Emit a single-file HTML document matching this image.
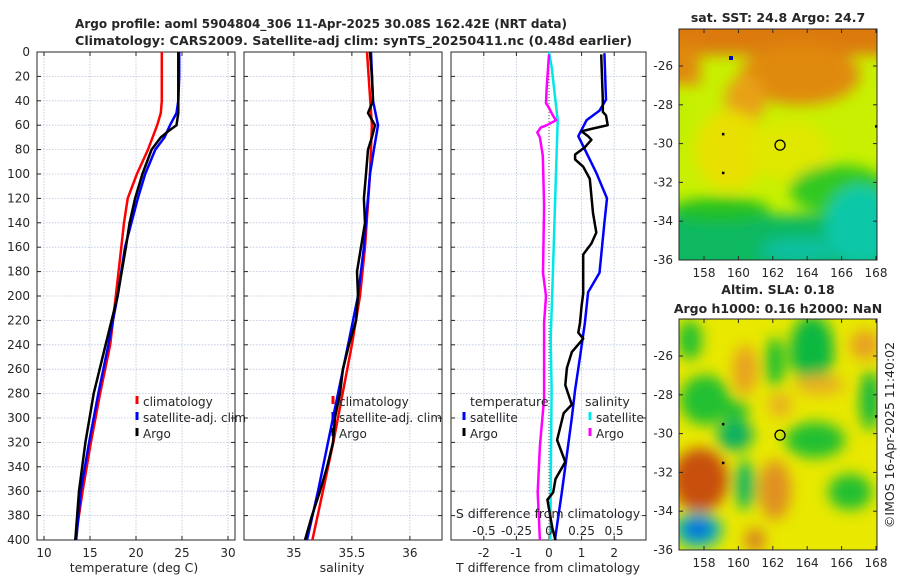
<!DOCTYPE html>
<html><head><meta charset="utf-8"><style>
body{margin:0;background:#fff;}
svg{font-family:"DejaVu Sans","Liberation Sans",sans-serif;}
</style></head><body>
<svg id="c" width="900" height="580" viewBox="0 0 900 580" xmlns="http://www.w3.org/2000/svg">
<defs>
<filter id="bl" x="-20%" y="-20%" width="140%" height="140%"><feGaussianBlur stdDeviation="7"/></filter>
<clipPath id="cm1"><rect x="679" y="29" width="198" height="231"/></clipPath>
<clipPath id="cm2"><rect x="679" y="319" width="198" height="231"/></clipPath>
</defs>
<g clip-path="url(#cm1)">
<rect x="679" y="29" width="198" height="231" fill="#c8f000"/>
<g filter="url(#bl)">
<rect x="660" y="10" width="240" height="45" fill="#dc7a08"/>
<rect x="660" y="45" width="40" height="40" fill="#e08a10"/>
<ellipse cx="800" cy="75" rx="60" ry="30" fill="#e08a10"/>
<ellipse cx="745" cy="100" rx="20" ry="25" fill="#e8a018"/>
<ellipse cx="730" cy="150" rx="35" ry="40" fill="#e8e000"/>
<ellipse cx="790" cy="150" rx="40" ry="30" fill="#e0e800"/>
<ellipse cx="840" cy="190" rx="50" ry="25" fill="#30c820"/>
<rect x="660" y="215" width="240" height="60" fill="#10b860"/>
<ellipse cx="720" cy="210" rx="50" ry="12" fill="#20c020"/>
<ellipse cx="860" cy="225" rx="35" ry="40" fill="#10c8a8"/>
<ellipse cx="800" cy="250" rx="40" ry="12" fill="#10c0a0"/>
<ellipse cx="680" cy="120" rx="8" ry="30" fill="#c0f000"/>
</g>
<rect x="729" y="56" width="4" height="4" fill="#0010a0"/>
</g>
<g clip-path="url(#cm2)">
<rect x="679" y="319" width="198" height="231" fill="#e8e800"/>
<g filter="url(#bl)">
<ellipse cx="690" cy="340" rx="12" ry="20" fill="#20c030"/>
<ellipse cx="812" cy="350" rx="22" ry="35" fill="#10b840"/>
<ellipse cx="705" cy="400" rx="25" ry="25" fill="#20c030"/>
<ellipse cx="735" cy="410" rx="14" ry="10" fill="#20c030"/>
<ellipse cx="775" cy="362" rx="10" ry="25" fill="#20c030"/>
<ellipse cx="870" cy="400" rx="10" ry="30" fill="#10b840"/>
<ellipse cx="735" cy="435" rx="18" ry="16" fill="#10b060"/>
<ellipse cx="815" cy="440" rx="30" ry="18" fill="#20c030"/>
<ellipse cx="745" cy="485" rx="10" ry="25" fill="#10b860"/>
<ellipse cx="850" cy="492" rx="22" ry="18" fill="#20c030"/>
<ellipse cx="745" cy="370" rx="12" ry="25" fill="#e8a020"/>
<ellipse cx="780" cy="405" rx="12" ry="12" fill="#e8b020"/>
<ellipse cx="700" cy="480" rx="28" ry="32" fill="#c85010"/>
<ellipse cx="775" cy="490" rx="16" ry="30" fill="#e09020"/>
<ellipse cx="820" cy="385" rx="25" ry="10" fill="#e8b020"/>
<ellipse cx="865" cy="345" rx="15" ry="15" fill="#e8a020"/>
<ellipse cx="755" cy="540" rx="10" ry="12" fill="#d88020"/>
<ellipse cx="698" cy="530" rx="24" ry="18" fill="#10b8b0"/>
<ellipse cx="698" cy="529" rx="14" ry="9" fill="#1060e0"/>
</g>
</g>
<g id="plots"></g>
</svg>
<script>
const NS="http://www.w3.org/2000/svg";
const plotG=document.getElementById('plots');
// ---------- data ----------
const depthTicks=[0,20,40,60,80,100,120,140,160,180,200,220,240,260,280,300,320,340,360,380,400];
const tTicks=[10,15,20,25,30];
const sTicks=[35,35.5,36];
const dTicks=[-2,-1,0,1,2];
const sdTickLabels=["-0.5","-0.25","0","0.25","0.5"];
const sdTickVals=[-0.5,-0.25,0,0.25,0.5];
const climTdep=[0,20,40,50,60,80,100,120,140,160,200,240,280,320,360,400];
const climT=[22.8,22.8,22.8,22.7,22.3,21.3,20.1,19.1,18.7,18.4,17.8,17.2,16.1,15.1,14.2,13.4];
const satTdep=[0,20,40,50,60,70,80,100,120,140,160,200,240,280,320,360,400];
const satT=[24.7,24.7,24.6,24.4,23.7,23.1,22.1,21.0,20.2,19.5,18.8,18.0,17.0,15.9,14.9,14.0,13.5];
const argoTdep=[0,20,40,50,60,65,70,80,100,120,140,160,200,240,280,320,360,400];
const argoT=[24.6,24.6,24.6,24.6,24.4,23.5,22.7,21.7,20.7,19.9,19.3,18.9,18.0,16.7,15.4,14.5,13.8,13.4];
const climSdep=[0,60,100,160,200,240,280,320,360,400];
const climS=[35.63,35.673,35.656,35.613,35.57,35.50,35.42,35.34,35.25,35.16];
const satSdep=[0,40,60,80,100,160,200,240,280,320,360,400];
const satS=[35.665,35.682,35.725,35.69,35.656,35.604,35.553,35.467,35.38,35.294,35.208,35.113];
const argoSdep=[0,20,40,50,60,70,80,100,120,140,160,180,200,220,240,260,280,300,320,340,360,380,400];
const argoS=[35.656,35.673,35.682,35.639,35.699,35.673,35.639,35.622,35.604,35.613,35.579,35.544,35.553,35.536,35.475,35.423,35.398,35.354,35.337,35.286,35.225,35.156,35.096];
const satTdDep=[1,39,48,56,69,80,99,120,140,181,197,222,250,277,300,330,360,400];
const satTd=[1.7,1.75,1.55,1.15,0.9,1.1,1.45,1.78,1.7,1.55,1.2,1.1,0.95,0.8,0.7,0.55,0.4,0.18];
const argoTdDep=[2,39,49,52,60,63,65,69,72,78,84,88,94,104,118,132,148,157,166,181,198,208,222,230,235,246,259,273,289,296,318,336,350,361,367,390,400];
const argoTd=[1.6,1.65,1.65,1.75,1.8,1.3,1.0,1.2,1.3,1.1,0.8,0.8,1.05,1.25,1.3,1.35,1.45,1.3,1.05,1.05,1.05,1.0,0.95,0.9,1.05,0.7,0.55,0.5,0.7,0.45,0.25,0.5,0.2,0.13,-0.05,0.1,0.2];
const satSdDep=[0,12,56,99,181,235,277,330,400];
const satSd=[0,0.02,0.067,0.054,0.03,0.013,0.02,0.015,0.01];
const argoSdDep=[2,29,42,45,52,56,60,62,66,70,85,126,181,200,222,277,284,323,361,400];
const argoSd=[0,-0.018,-0.023,-0.005,0.03,0.054,-0.018,-0.064,-0.09,-0.07,-0.048,-0.038,-0.046,-0.023,-0.038,-0.038,-0.038,-0.07,-0.087,-0.07];
// ---------- helpers ----------
const yTop=52,yBot=540;
const yD=d=>yTop+(d/400)*(yBot-yTop);
function el(tag,attrs,t){const e=document.createElementNS(NS,tag);for(const k in attrs)e.setAttribute(k,attrs[k]);if(t!==undefined)e.textContent=t;plotG.appendChild(e);return e;}
function txt(x,y,s,anchor,size,name,weight){const t=el('text',{x:x,y:y,'text-anchor':anchor||'middle','font-size':size||12,fill:'#262626','font-weight':weight||'normal'},s);

return t;}
function pline(xs,ds,fx,color,w,name){const pts=xs.map((v,i)=>fx(v).toFixed(1)+','+yD(ds[i]).toFixed(1)).join(' ');
const p=el('polyline',{points:pts,fill:'none',stroke:color,'stroke-width':w||2.5,'stroke-linejoin':'round'});

}
function panel(x0,x1,ticks,fx,name){
 depthTicks.forEach(d=>{el('line',{x1:x0,x2:x1,y1:yD(d),y2:yD(d),stroke:'#b8c4dc','stroke-width':0.8,'stroke-dasharray':'1.5,1.5'});
  el('line',{x1:x0,x2:x0+4,y1:yD(d),y2:yD(d),stroke:'#262626'});el('line',{x1:x1-4,x2:x1,y1:yD(d),y2:yD(d),stroke:'#262626'});});
 ticks.forEach(v=>{const x=fx(v);el('line',{x1:x,x2:x,y1:yTop,y2:yBot,stroke:'#b8c4dc','stroke-width':0.8,'stroke-dasharray':'1.5,1.5'});
  el('line',{x1:x,x2:x,y1:yBot-4,y2:yBot,stroke:'#262626'});el('line',{x1:x,x2:x,y1:yTop,y2:yTop+4,stroke:'#262626'});});
 const r=el('rect',{x:x0,y:yTop,width:x1-x0,height:yBot-yTop,fill:'none',stroke:'#262626','stroke-width':1});
 
 
}
function legend(x,y,color,label,name){el('line',{x1:x,x2:x,y1:y-10,y2:y-2,stroke:color,'stroke-width':3});txt(x+6,y,label,'start',12,name);}
// ---------- panel 1 ----------
const fT=v=>37+(v-9.24)*9.2;
panel(37,235,tTicks,fT,'temperature-panel');
depthTicks.forEach(d=>txt(30,yD(d)+4,String(d),'end',12,'depth-tick-label'));
tTicks.forEach(v=>txt(fT(v),557,String(v),'middle',12,'temperature-tick-label'));
txt(134,572,'temperature (deg C)','middle',12.5,'temperature-axis-title');
pline(climT,climTdep,fT,'#ff0000',2.5,'climatology-temperature-line');
pline(satT,satTdep,fT,'#0000ff',2.5,'satellite-temperature-line');
pline(argoT,argoTdep,fT,'#000000',2.5,'argo-temperature-line');
legend(137,406,'#ff0000','climatology','legend-climatology');
legend(137,422,'#0000ff','satellite-adj. clim','legend-satellite');
legend(137,438,'#000000','Argo','legend-argo');
// ---------- panel 2 ----------
const fS=v=>244+(v-34.57)*116;
panel(244,442,sTicks,fS,'salinity-panel');
sTicks.forEach(v=>txt(fS(v),557,String(v),'middle',12,'salinity-tick-label'));
txt(342,572,'salinity','middle',12.5,'salinity-axis-title');
pline(climS,climSdep,fS,'#ff0000',2.5,'climatology-salinity-line');
pline(satS,satSdep,fS,'#0000ff',2.5,'satellite-salinity-line');
pline(argoS,argoSdep,fS,'#000000',2.5,'argo-salinity-line');
legend(333,406,'#ff0000','climatology','legend-climatology');
legend(333,422,'#0000ff','satellite-adj. clim','legend-satellite');
legend(333,438,'#000000','Argo','legend-argo');
// ---------- panel 3 ----------
const fD=v=>549+v*32.6;
const fSD=v=>549+v*130;
panel(451,646,dTicks,fD,'difference-panel');
el('line',{x1:549,x2:549,y1:yTop,y2:yBot,stroke:'#555','stroke-width':1,'stroke-dasharray':'1,2'});
dTicks.forEach(v=>txt(fD(v),557,String(v),'middle',12,'t-difference-tick-label'));
txt(548,572,'T difference from climatology','middle',12.5,'t-difference-axis-title');
pline(satSd,satSdDep,fSD,'#00e8e8',2.5,'satellite-salinity-difference-line');
pline(argoSd,argoSdDep,fSD,'#ff00ff',2.5,'argo-salinity-difference-line');
pline(satTd,satTdDep,fD,'#0000ff',2.5,'satellite-temperature-difference-line');
pline(argoTd,argoTdDep,fD,'#000000',2.5,'argo-temperature-difference-line');
txt(548,518,'S difference from climatology','middle',12.5,'s-difference-axis-title');
sdTickLabels.forEach((s,i)=>txt(fSD(sdTickVals[i]),535,s,'middle',12,'s-difference-tick-label'));
txt(470,406,'temperature','start',12.5,'legend-temperature-header');
legend(464,422,'#0000ff','satellite','legend-temperature-satellite');
legend(464,438,'#000000','Argo','legend-temperature-argo');
txt(585,406,'salinity','start',12.5,'legend-salinity-header');
legend(590,422,'#00e8e8','satellite','legend-salinity-satellite');
legend(590,438,'#ff00ff','Argo','legend-salinity-argo');
// ---------- titles ----------
const t1=txt(75,28,'Argo profile: aoml 5904804_306 11-Apr-2025 30.08S 162.42E (NRT data)','start',12.5,'main-title-line1','bold');
t1.setAttribute('textLength','492');
t1.setAttribute('lengthAdjust','spacingAndGlyphs');
const t2=txt(75,45,'Climatology: CARS2009. Satellite-adj clim: synTS_20250411.nc (0.48d earlier)','start',12.5,'main-title-line2','bold');
t2.setAttribute('textLength','557');
t2.setAttribute('lengthAdjust','spacingAndGlyphs');
// ---------- maps ----------
const lonTicks=[158,160,162,164,166,168];
const latTicks=[-26,-28,-30,-32,-34,-36];
const fLon=v=>704+(v-158)*17.2;
function mapAxes(y0,y1,latY0,name){
 const fLat=v=>latY0+(-26-v)*19.4;
 const r=el('rect',{x:679,y:y0,width:198,height:y1-y0,fill:'none',stroke:'#262626'});
 
 
 latTicks.forEach(v=>{const y=fLat(v);el('line',{x1:679,x2:683,y1:y,y2:y,stroke:'#262626'});el('line',{x1:873,x2:877,y1:y,y2:y,stroke:'#262626'});txt(673,y+4,String(v),'end',12,'latitude-tick-label');});
 lonTicks.forEach(v=>{const x=fLon(v);el('line',{x1:x,x2:x,y1:y1-4,y2:y1,stroke:'#262626'});el('line',{x1:x,x2:x,y1:y0,y2:y0+4,stroke:'#262626'});txt(x,y1+17,String(v),'middle',12,'longitude-tick-label');});
 const c=el('circle',{cx:fLon(162.42),cy:fLat(-30.08),r:5,fill:'none',stroke:'#000','stroke-width':1.3});
 
 
 [[159.1,-29.5],[159.1,-31.5],[168,-29.1]].forEach(p=>el('rect',{x:fLon(p[0])-1,y:fLat(p[1])-1,width:2.5,height:2.5,fill:'#000'}));
}
mapAxes(29,260,66,'sst-map-frame');
mapAxes(319,550,356,'sla-map-frame');
txt(778,22,'sat. SST: 24.8 Argo: 24.7','middle',12.5,'sst-map-title','bold');
txt(778,294,'Altim. SLA: 0.18','middle',12.5,'sla-map-title','bold');
txt(778,313,'Argo h1000: 0.16 h2000: NaN','middle',12.5,'sla-map-subtitle','bold');
const stamp=txt(0,0,'©IMOS 16-Apr-2025 11:40:02','middle',12.5,'timestamp-label');
stamp.setAttribute('transform','translate(894,435) rotate(-90)');
</script>
</body></html>
